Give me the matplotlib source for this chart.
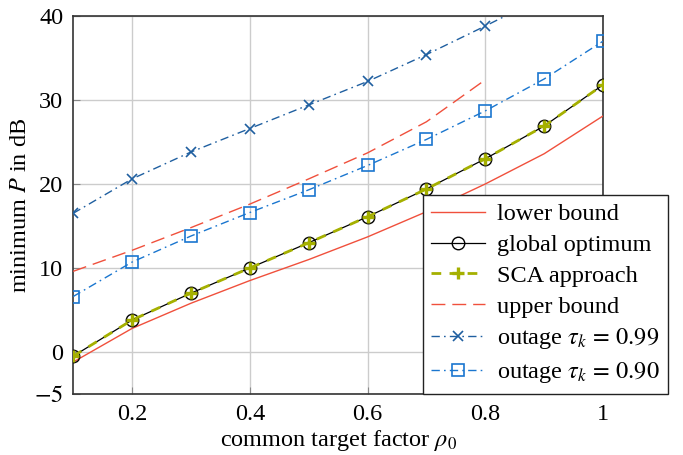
import matplotlib
matplotlib.use("Agg")
import matplotlib.pyplot as plt

plt.rcParams['font.family'] = ['Liberation Serif', 'DejaVu Serif']
plt.rcParams['mathtext.fontset'] = 'stix'

rho = [0.1, 0.2, 0.3, 0.4, 0.5, 0.6, 0.7, 0.8, 0.9, 1.0]
lower_bound = [-1.2, 2.8, 5.8, 8.5, 11.0, 13.7, 16.7, 20.0, 23.6, 28.1]
global_opt = [-0.5, 3.8, 7.0, 10.0, 13.0, 16.1, 19.4, 23.0, 26.9, 31.8]
sca = [-0.5, 3.8, 7.0, 10.0, 13.0, 16.1, 19.4, 23.0, 26.9, 31.8]
rho_ub = [0.1, 0.2, 0.3, 0.4, 0.5, 0.6, 0.7, 0.8]
upper_bound = [9.6, 12.1, 14.8, 17.6, 20.6, 23.7, 27.4, 32.4]
outage_99 = [16.5, 20.6, 23.8, 26.6, 29.4, 32.2, 35.4, 38.8, 42.3, 46.5]
outage_90 = [6.6, 10.7, 13.8, 16.6, 19.3, 22.2, 25.3, 28.7, 32.5, 37.0]

xticks = [0.2, 0.4, 0.6, 0.8, 1.0]
xticklabels = ['0.2', '0.4', '0.6', '0.8', '1']
yticks = [-5, 0, 10, 20, 30, 40]
yticklabels = ['$-5$', '0', '10', '20', '30', '40']

red = '#F0503C'
olive = '#A5B000'
dblue = '#1F5FA0'
blue = '#1A76CF'

fig = plt.figure(figsize=(6.83, 4.55), dpi=100)
ax = fig.add_axes([0.107, 0.134, 0.776, 0.831])

ax.plot(rho, lower_bound, color=red, lw=1.0, label='lower bound', zorder=3)
ax.plot(rho, global_opt, color='black', lw=0.9, marker='o', ms=9, mfc='none',
        mec='black', mew=1.0, label='global optimum', zorder=4)
ax.plot(rho, sca, color=olive, lw=2.0, ls=(0, (3.5, 3)), marker='+', ms=9, mew=2.4,
        label='SCA approach', zorder=5)
ax.plot(rho_ub, upper_bound, color=red, lw=1.0, ls=(0, (10, 5)), label='upper bound', zorder=3)
ax.plot(rho, outage_99, color=dblue, lw=1.0, ls=(0, (6, 3, 1.2, 3)), marker='x', ms=7,
        mew=1.2, label=r'outage $\tau_k\,=\,0.99$', zorder=3)
ax.plot(rho, outage_90, color=blue, lw=1.0, ls=(0, (6, 3, 1.2, 3)), marker='s', ms=8.5,
        mfc='none', mew=1.2, label=r'outage $\tau_k\,=\,0.90$', zorder=3)

ax.set_xlim(0.1, 1.0)
ax.set_ylim(-5, 40)
ax.set_xticks(xticks)
ax.set_xticklabels(xticklabels)
ax.set_yticks(yticks)
ax.set_yticklabels(yticklabels)
ax.tick_params(direction='in', length=5, color='#888888', labelsize=17.5, pad=7)
ax.grid(True, color='#CCCCCC', lw=1.0)
ax.set_axisbelow(True)
for s in ax.spines.values():
    s.set_color('#333333')
    s.set_linewidth(1.2)

ax.set_xlabel(r'common target factor $\rho_0$', fontsize=17.5, labelpad=2)
ax.set_ylabel(r'minimum $P$ in dB', fontsize=17.5, labelpad=2)

leg = ax.legend(loc='upper left', bbox_to_anchor=(0.619, 0.572), bbox_transform=fig.transFigure,
                fontsize=17.5, frameon=True, fancybox=False, edgecolor='#222222',
                framealpha=1.0, handlelength=2.2, handletextpad=0.5, labelspacing=0.36,
                borderpad=0.35, borderaxespad=0)
leg.get_frame().set_linewidth(1.0)
leg.set_zorder(10)

fig.savefig('out.png', dpi=100)
